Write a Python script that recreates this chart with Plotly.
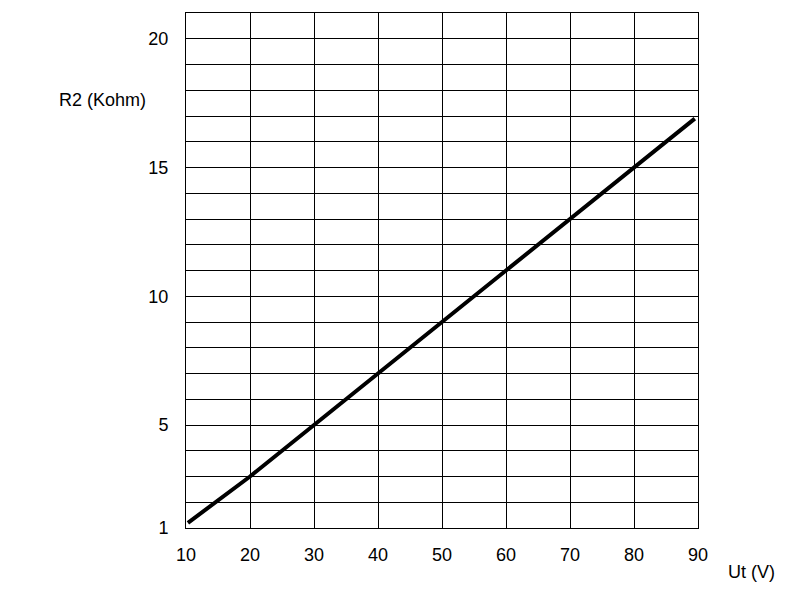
import plotly.graph_objects as go

# Ut (V) vs R2 (Kohm)
ut_volts = [10.3, 20, 30, 40, 50, 60, 70, 80, 89.5]
r2_kohm = [1.2, 3.0, 5.0, 7.0, 9.0, 11.0, 13.0, 15.0, 16.9]

x_ticks = [10, 20, 30, 40, 50, 60, 70, 80, 90]
y_ticks = [1, 5, 10, 15, 20]

FONT = dict(family="Liberation Sans, Arial, sans-serif", size=18, color="black")

fig = go.Figure()
fig.add_trace(go.Scatter(
    x=ut_volts,
    y=r2_kohm,
    mode="lines",
    line=dict(color="black", width=4),
    showlegend=False,
))

fig.update_layout(
    width=801,
    height=594,
    margin=dict(l=178, r=111, t=5, b=74),
    paper_bgcolor="white",
    plot_bgcolor="white",
    font=FONT,
    xaxis=dict(
        range=[10, 90],
        tickvals=x_ticks,
        showgrid=True,
        gridcolor="black",
        gridwidth=1,
        showline=True,
        linecolor="black",
        linewidth=1,
        mirror=True,
        zeroline=False,
        ticks="",
        ticklabelstandoff=10,
    ),
    yaxis=dict(
        range=[1, 21],
        tickvals=y_ticks,
        showgrid=True,
        gridcolor="black",
        gridwidth=1,
        minor=dict(tick0=1, dtick=1, showgrid=True, gridcolor="black", gridwidth=1),
        showline=True,
        linecolor="black",
        linewidth=1,
        mirror=True,
        zeroline=False,
        ticks="",
        ticklabelstandoff=13,
    ),
    annotations=[
        dict(text="R2 (Kohm)", xref="paper", yref="paper", x=-0.074, y=0.831,
             xanchor="right", yanchor="middle", showarrow=False, font=FONT),
        dict(text="Ut (V)", xref="paper", yref="paper", x=1.055, y=-0.085,
             xanchor="left", yanchor="middle", showarrow=False, font=FONT),
    ],
)

fig.write_html("out.html")
